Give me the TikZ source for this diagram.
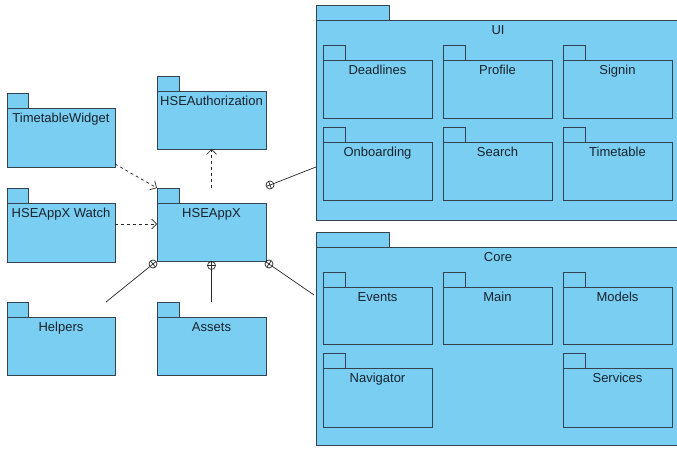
\documentclass[tikz,border=0pt]{standalone}
\usepackage{fontspec}
\setmainfont{Liberation Sans}
\usetikzlibrary{arrows.meta,calc}
\definecolor{pkgfill}{RGB}{122,206,242}
\definecolor{pkgline}{RGB}{52,66,82}
\definecolor{txt}{RGB}{25,35,45}
\definecolor{wire}{RGB}{40,40,40}
\tikzset{
  pkgbody/.style={draw=pkgline, fill=pkgfill, line width=0.9pt, rectangle, anchor=north west, inner sep=0pt, outer sep=0pt},
  pkgtab/.style={draw=pkgline, fill=pkgfill, line width=0.9pt},
  pkglabel/.style={font=\fontsize{13}{15}\selectfont, text=txt, anchor=base, inner sep=0pt},
  dep/.style={draw=wire, line width=0.7pt, dash pattern=on 3pt off 3pt, -{Straight Barb[length=5pt,width=10pt]}},
  nest/.style={draw=wire, line width=0.7pt},
}
% name, x, y (top of body), width, height, tab width, text
\newcommand{\pkgbox}[7]{%
  \path[pkgtab] (#2,#3-15) rectangle ++(#6,15);
  \node[pkgbody, minimum width=#4pt, minimum height=#5pt] (#1) at (#2,#3) {};
  \node[pkglabel] (#1-l) at ($(#1.north)+(0,14.5)$) {#7};
}
\newcommand{\nestlink}[2]{%
  \draw[nest] (#1) circle (4pt);
  \draw[nest] ($(#1)!4pt!(#2)$) -- ($(#1)!-4pt!(#2)$);
  \draw[nest] ($(#1)!4pt!90:(#2)$) -- ($(#1)!-4pt!90:(#2)$);
  \draw[nest] ($(#1)!4pt!(#2)$) -- (#2);
}
\begin{document}
\begin{tikzpicture}[x=1pt,y=-1pt]
\clip (0,0) rectangle (677,449);
\fill[white] (0,0) rectangle (677,449);
% left column
\pkgbox{TW}{7}{108}{108}{59}{21}{TimetableWidget}
\pkgbox{Watch}{7}{203}{108}{59}{21}{HSEAppX Watch}
\pkgbox{Helpers}{7}{317}{108}{58}{21}{Helpers}
% middle column
\pkgbox{Auth}{157}{91}{109}{58}{22}{HSEAuthorization}
\pkgbox{App}{157}{203}{109}{58}{22}{HSEAppX}
\pkgbox{Assets}{157}{317}{109}{58}{22}{Assets}
% UI
\pkgbox{UI}{316}{20}{364}{200}{73}{UI}
\pkgbox{Deadlines}{323}{60}{109}{58}{22}{Deadlines}
\pkgbox{Profile}{443}{60}{109}{58}{22}{Profile}
\pkgbox{Signin}{563}{60}{109}{58}{22}{Signin}
\pkgbox{Onboarding}{323}{142}{109}{58}{22}{Onboarding}
\pkgbox{Search}{443}{142}{109}{58}{22}{Search}
\pkgbox{Timetable}{563}{142}{109}{58}{22}{Timetable}
% Core
\pkgbox{Core}{316}{247}{364}{198}{73}{Core}
\pkgbox{Events}{323}{287}{109}{57}{22}{Events}
\pkgbox{Main}{443}{287}{109}{57}{22}{Main}
\pkgbox{Models}{563}{287}{109}{57}{22}{Models}
\pkgbox{Navigator}{323}{368}{109}{59}{22}{Navigator}
\pkgbox{Services}{563}{368}{109}{59}{22}{Services}
% dependencies
\coordinate (twout) at ($(TW.south east)+(0,-3)$);
\coordinate (apptab) at ($(App.north west)+(0,-15)$);
\coordinate (wout) at ($(Watch.north east)+(0,21)$);
\coordinate (win) at ($(App.north west)+(0,21)$);
\coordinate (appup) at ($(App.north)+(0,-15)$);
\draw[dep] (twout) -- (apptab);
\draw[dep] (wout) -- (win);
\draw[dep] (appup) -- (Auth.south);
% nesting
\coordinate (n1) at ($(App.south west)+(-4,3)$);
\coordinate (n2) at ($(App.south)+(0,4.5)$);
\coordinate (n3) at ($(App.south east)+(3,3)$);
\coordinate (n4) at ($(App.north east)+(4,-18)$);
\coordinate (e1) at ($(Helpers.north east)+(-9,-15)$);
\coordinate (e2) at ($(Assets.north)+(0,-15)$);
\coordinate (e3) at ($(Core.north west)+(-2,48)$);
\coordinate (e4) at ($(UI.north west)+(0,147)$);
\nestlink{n1}{e1}
\nestlink{n2}{e2}
\nestlink{n3}{e3}
\nestlink{n4}{e4}
\end{tikzpicture}
\end{document}
